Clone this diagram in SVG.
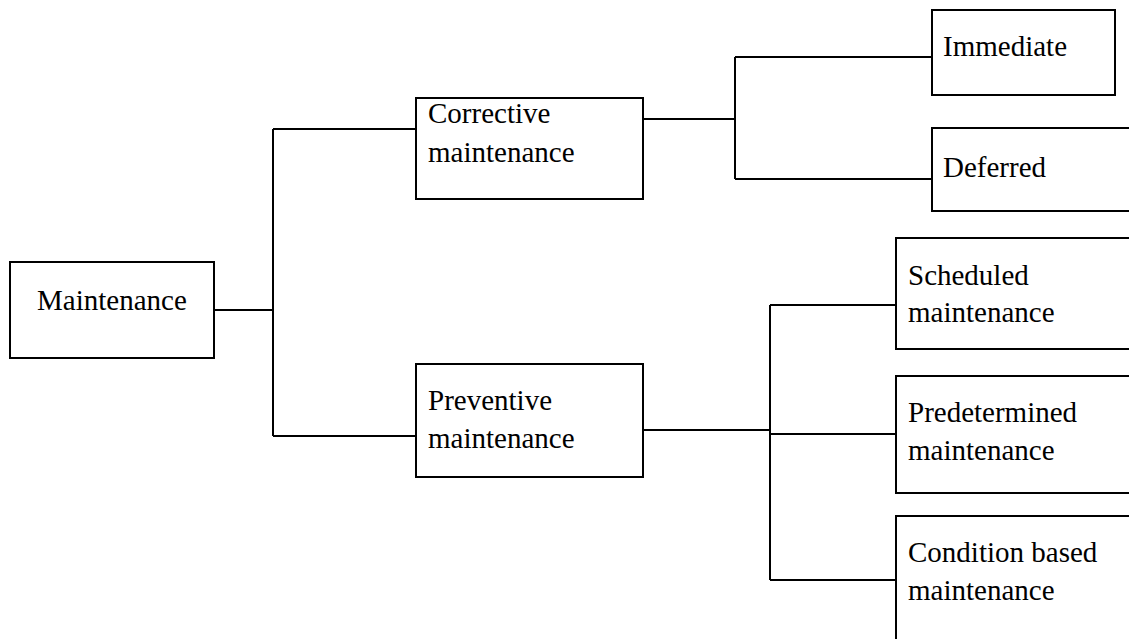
<svg xmlns="http://www.w3.org/2000/svg" width="1129" height="639" viewBox="0 0 1129 639">
  <style>
    .box { fill: #fff; stroke: #000; stroke-width: 2; }
    .lbl { font-family: "Liberation Serif", "Times New Roman", serif; font-size: 29px; fill: #000; }
    .wire { fill: none; stroke: #000; stroke-width: 2; }
  </style>
  <rect width="1129" height="639" fill="#fff"/>

  <g id="connectors">
    <path class="wire" d="M214 310 H273 M273 129 V436 M273 129 H416 M273 436 H416"/>
    <path class="wire" d="M643 119 H735 M735 57 V179 M735 57 H932 M735 179 H932"/>
    <path class="wire" d="M643 430 H770 M770 305 V580 M770 305 H896 M770 434 H896 M770 580 H896"/>
  </g>

  <g id="maintenance">
    <rect class="box" x="10" y="262" width="204" height="96"/>
    <text class="lbl" x="37" y="310">Maintenance</text>
  </g>

  <g id="corrective">
    <rect class="box" x="416" y="98" width="227" height="101"/>
    <text class="lbl" x="428" y="123">Corrective</text>
    <text class="lbl" x="428" y="162">maintenance</text>
  </g>

  <g id="preventive">
    <rect class="box" x="416" y="364" width="227" height="113"/>
    <text class="lbl" x="428" y="410">Preventive</text>
    <text class="lbl" x="428" y="448">maintenance</text>
  </g>

  <g id="immediate">
    <rect class="box" x="932" y="10" width="183" height="85"/>
    <text class="lbl" x="943" y="56">Immediate</text>
  </g>

  <g id="deferred">
    <rect class="box" x="932" y="128" width="210" height="83"/>
    <text class="lbl" x="943" y="177">Deferred</text>
  </g>

  <g id="scheduled">
    <rect class="box" x="896" y="238" width="250" height="111"/>
    <text class="lbl" x="908" y="285">Scheduled</text>
    <text class="lbl" x="908" y="322">maintenance</text>
  </g>

  <g id="predetermined">
    <rect class="box" x="896" y="376" width="250" height="117"/>
    <text class="lbl" x="908" y="422">Predetermined</text>
    <text class="lbl" x="908" y="460">maintenance</text>
  </g>

  <g id="condition-based">
    <rect class="box" x="896" y="516" width="250" height="140"/>
    <text class="lbl" x="908" y="562">Condition based</text>
    <text class="lbl" x="908" y="600">maintenance</text>
  </g>
</svg>
